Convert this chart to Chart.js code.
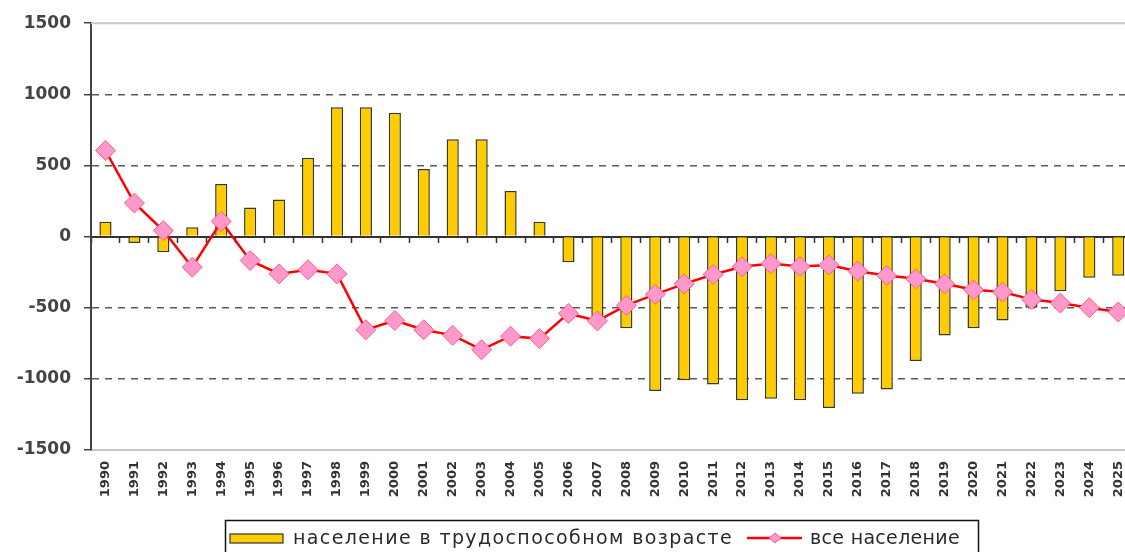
<!DOCTYPE html>
<html>
<head>
<meta charset="utf-8">
<script src="https://cdn.jsdelivr.net/npm/chart.js"></script>
<style>
  html, body { margin: 0; padding: 0; background: #fff; overflow: hidden; width: 1125px; height: 552px; }
  #wrap { width: 1145px; height: 552px; }
</style>
</head>
<body>
<div id="wrap"><canvas id="popChart" width="1145" height="552"></canvas></div>
<script>
// years on the x axis
const years = ['1990', '1991', '1992', '1993', '1994', '1995', '1996', '1997', '1998', '1999',
  '2000', '2001', '2002', '2003', '2004', '2005', '2006', '2007', '2008', '2009',
  '2010', '2011', '2012', '2013', '2014', '2015', '2016', '2017', '2018', '2019',
  '2020', '2021', '2022', '2023', '2024', '2025'];

// население в трудоспособном возрасте (bars)
const workingAge = [105, -45, -110, 65, 370, 205, 260, 555, 910, 910,
  870, 475, 685, 685, 320, 105, -180, -580, -645, -1085,
  -1010, -1040, -1150, -1140, -1150, -1205, -1105, -1075, -875, -695,
  -645, -590, -500, -385, -290, -275];

// все население (line)
const totalPop = [605, 236, 42, -215, 107, -168, -262, -233, -262, -655,
  -590, -655, -694, -795, -700, -717, -540, -593, -484, -406,
  -332, -266, -212, -190, -210, -199, -243, -273, -297, -332,
  -374, -390, -441, -467, -500, -530];

const yTicks = [-1500, -1000, -500, 0, 500, 1000, 1500];

const seriesNames = ['население в трудоспособном возрасте', 'все население'];

const barColor = '#FFCC00';
const lineColor = '#FF0000';
const markerFill = '#FF99CC';
const markerEdge = '#FF5C8A';

// light frame line along the top of the plot area
const frameTop = {
  id: 'frameTop',
  beforeDatasetsDraw(chart) {
    const { ctx, chartArea } = chart;
    ctx.save();
    ctx.strokeStyle = '#c8c8c8';
    ctx.lineWidth = 2;
    ctx.beginPath();
    ctx.moveTo(chartArea.left, chartArea.top);
    ctx.lineTo(chartArea.right, chartArea.top);
    ctx.stroke();
    ctx.restore();
  }
};

// draw text stretched to a given width with letter spacing
function spacedText(ctx, text, x, y, width) {
  ctx.letterSpacing = '0px';
  const w = ctx.measureText(text).width;
  ctx.letterSpacing = Math.max(0, (width - w) / text.length).toFixed(2) + 'px';
  ctx.fillText(text, x, y);
  ctx.letterSpacing = '0px';
}

// boxed legend at the bottom
const boxLegend = {
  id: 'boxLegend',
  afterDraw(chart) {
    const ctx = chart.ctx;
    const cy = 538;
    ctx.save();
    ctx.strokeStyle = '#111';
    ctx.lineWidth = 1.5;
    ctx.strokeRect(225.5, 520.5, 753, 40);

    ctx.fillStyle = barColor;
    ctx.fillRect(230, cy - 4, 53, 9);
    ctx.strokeStyle = '#333';
    ctx.lineWidth = 1.2;
    ctx.strokeRect(230, cy - 4, 53, 9);

    ctx.font = '19px "DejaVu Sans"';
    ctx.fillStyle = '#2a2a2a';
    ctx.textBaseline = 'middle';
    spacedText(ctx, seriesNames[0], 293, cy + 1, 440);

    ctx.strokeStyle = lineColor;
    ctx.lineWidth = 2.5;
    ctx.beginPath();
    ctx.moveTo(747, cy);
    ctx.lineTo(802, cy);
    ctx.stroke();
    ctx.fillStyle = markerFill;
    ctx.strokeStyle = markerEdge;
    ctx.lineWidth = 1;
    ctx.beginPath();
    ctx.moveTo(769, cy);
    ctx.lineTo(775, cy - 5);
    ctx.lineTo(781, cy);
    ctx.lineTo(775, cy + 5);
    ctx.closePath();
    ctx.fill();
    ctx.stroke();

    ctx.fillStyle = '#2a2a2a';
    spacedText(ctx, seriesNames[1], 810, cy + 1, 150);
    ctx.restore();
  }
};

new Chart(document.getElementById('popChart').getContext('2d'), {
  data: {
    labels: years,
    datasets: [
      {
        type: 'line',
        label: seriesNames[1],
        data: totalPop,
        order: 0,
        borderColor: lineColor,
        borderWidth: 2.5,
        tension: 0,
        pointStyle: 'rectRot',
        pointRadius: 10,
        pointBackgroundColor: markerFill,
        pointBorderColor: markerEdge,
        pointBorderWidth: 1
      },
      {
        type: 'bar',
        label: seriesNames[0],
        data: workingAge,
        order: 1,
        backgroundColor: barColor,
        borderColor: '#3a3a1a',
        borderWidth: 1.5,
        categoryPercentage: 1,
        barPercentage: 0.42
      }
    ]
  },
  plugins: [frameTop, boxLegend],
  options: {
    responsive: false,
    animation: false,
    layout: { padding: { top: 22, left: 0, right: 8, bottom: 42 } },
    plugins: {
      legend: { display: false },
      tooltip: { enabled: false }
    },
    scales: {
      x: {
        type: 'category',
        position: 'bottom',
        offset: true,
        grid: { display: false, drawTicks: false },
        border: { display: true, color: '#c8c8c8', width: 2 },
        ticks: {
          autoSkip: false,
          minRotation: 90,
          maxRotation: 90,
          padding: 11,
          color: '#333',
          font: { family: 'DejaVu Sans', size: 13, weight: 'bold' }
        },
        afterFit(scale) { scale.height = 60; }
      },
      zero: {
        type: 'category',
        axis: 'x',
        position: { y: 0 },
        offset: true,
        grid: {
          offset: true,
          drawOnChartArea: false,
          drawTicks: true,
          tickLength: 5,
          tickColor: '#333',
          tickWidth: 1.5
        },
        border: { display: true, color: '#333', width: 2 },
        ticks: { display: false },
        afterFit(scale) { scale.height = 0; }
      },
      y: {
        min: -1500,
        max: 1500,
        afterBuildTicks(scale) { scale.ticks = yTicks.map(v => ({ value: v })); },
        grid: {
          color: (c) => (c.tick && (c.tick.value === 0 || Math.abs(c.tick.value) === 1500)) ? 'rgba(0,0,0,0)' : '#5a5a5a',
          lineWidth: 1.5,
          tickLength: 7,
          tickColor: '#444',
          tickWidth: 1.5
        },
        border: { display: true, color: '#444', width: 2, dash: [7, 6] },
        ticks: {
          padding: 13,
          color: '#444',
          font: { family: 'DejaVu Sans', size: 17, weight: 'bold' },
          callback: (v) => String(v)
        },
        afterFit(scale) { scale.width = 91; }
      }
    }
  }
});
</script>
</body>
</html>
